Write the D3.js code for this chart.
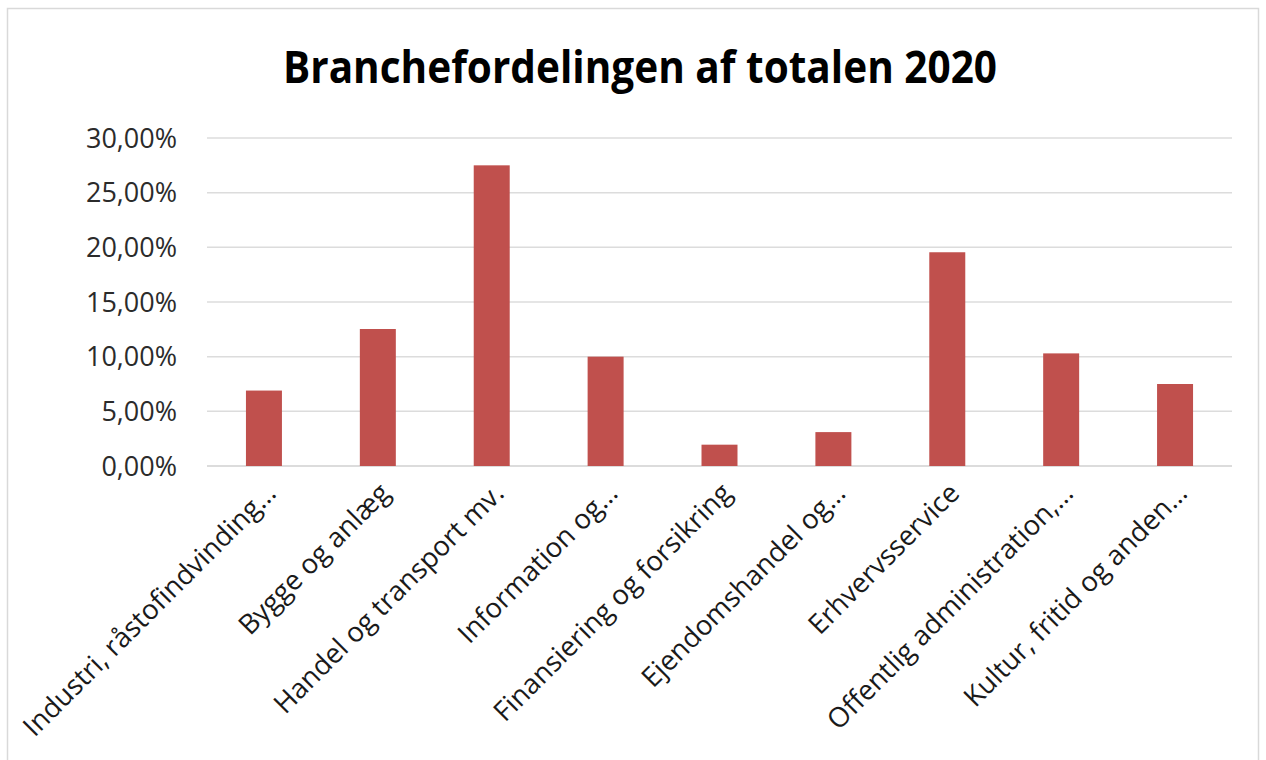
<!DOCTYPE html>
<html>
<head>
<meta charset="utf-8">
<script src="https://cdn.jsdelivr.net/npm/d3@7"></script>
<style>
  body { margin: 0; background: #fff; }
  svg { display: block; }
</style>
</head>
<body>
<svg width="1266" height="760"></svg>
<script>
const categories = [
  "Industri, råstofindvinding…",
  "Bygge og anlæg",
  "Handel og transport mv.",
  "Information og…",
  "Finansiering og forsikring",
  "Ejendomshandel og…",
  "Erhvervsservice",
  "Offentlig administration,…",
  "Kultur, fritid og anden…",
];
const shares = [0.069, 0.1253, 0.275, 0.1, 0.0195, 0.031, 0.1955, 0.103, 0.075];
const yTicks = [0, 0.05, 0.1, 0.15, 0.2, 0.25, 0.3];

const svg = d3.select("svg");

// chart frame
svg.append("rect")
  .attr("x", 7.5).attr("y", 8.5)
  .attr("width", 1251).attr("height", 780)
  .attr("fill", "none")
  .attr("stroke", "#d9d9d9")
  .attr("stroke-width", 1.5);

const x = d3.scaleBand()
  .domain(categories)
  .range([207, 1232])
  .paddingInner(0.684)
  .paddingOuter(0.342);

const y = d3.scaleLinear().domain([0, 0.3]).range([466, 138]);

const fmt = (v) => (v * 100).toFixed(2).replace(".", ",") + "%";

// gridlines
svg.append("g")
  .selectAll("line")
  .data(yTicks)
  .join("line")
  .attr("x1", 207).attr("x2", 1232)
  .attr("y1", (d) => y(d)).attr("y2", (d) => y(d))
  .attr("stroke", (d) => (d === 0 ? "#d0d0d0" : "#dcdcdc"))
  .attr("stroke-width", 1.5);

// y tick labels
svg.append("g")
  .selectAll("text")
  .data(yTicks)
  .join("text")
  .attr("x", 177)
  .attr("y", (d) => y(d))
  .attr("dy", "0.36em")
  .attr("text-anchor", "end")
  .attr("font-family", "Open Sans, sans-serif")
  .attr("font-size", 27)
  .attr("fill", "#2b2b2b")
  .text(fmt);

// bars
svg.append("g")
  .selectAll("rect")
  .data(shares)
  .join("rect")
  .attr("x", (d, i) => x(categories[i]))
  .attr("width", x.bandwidth())
  .attr("y", (d) => y(d))
  .attr("height", (d) => y(0) - y(d))
  .attr("fill", "#c0504d");

// x labels, rotated
svg.append("g")
  .selectAll("text")
  .data(categories)
  .join("text")
  .attr("transform", (d) => `translate(${x(d) + x.bandwidth() / 2 + 7},${488}) rotate(-45)`)
  .attr("dy", "0.35em")
  .attr("text-anchor", "end")
  .attr("font-family", "Open Sans, sans-serif")
  .attr("font-size", 27.5)
  .attr("fill", "#1a1a1a")
  .text((d) => d);

// title
svg.append("text")
  .attr("x", 640)
  .attr("y", 83)
  .attr("text-anchor", "middle")
  .attr("font-family", "Open Sans, sans-serif")
  .attr("font-weight", "bold")
  .attr("font-size", 44)
  .attr("textLength", 714)
  .attr("lengthAdjust", "spacingAndGlyphs")
  .attr("fill", "#000")
  .text("Branchefordelingen af totalen 2020");
</script>
</body>
</html>
